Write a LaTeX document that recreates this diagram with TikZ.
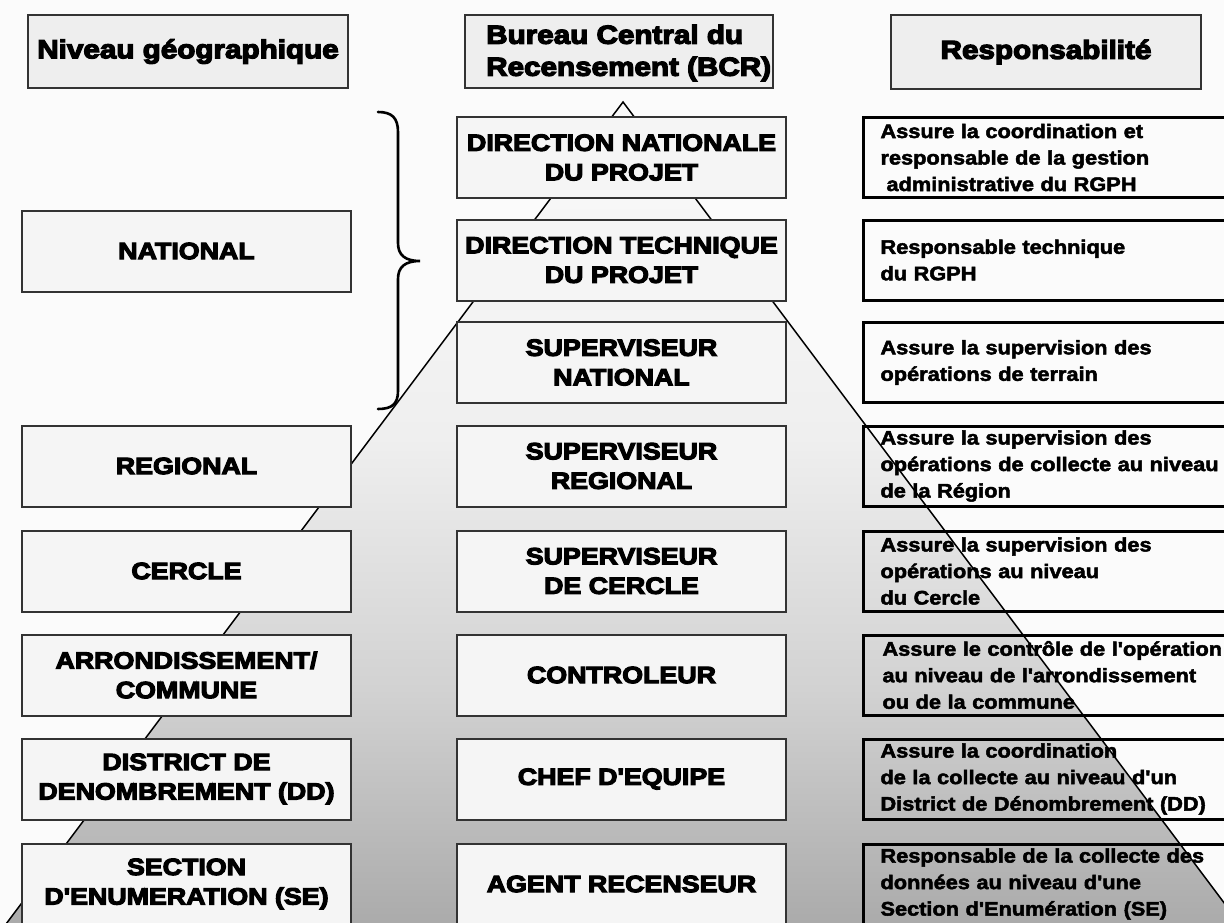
\documentclass[tikz,border=0pt]{standalone}
\usepackage{fontspec}
\newfontfamily\heavy[FakeStretch=1.14, FakeBold=5, Ligatures=TeXOff]{Liberation Sans Bold}
\newfontfamily\headfont[FakeStretch=1.14, FakeBold=5, Ligatures=TeXOff]{Liberation Sans Bold}
\newfontfamily\respfont[FakeStretch=1.11, FakeBold=2.5, Ligatures=TeXOff]{Liberation Sans Bold}
\definecolor{bgcol}{HTML}{FBFBFB}
\definecolor{boxfill}{HTML}{F5F5F5}
\definecolor{headfill}{HTML}{EEEEEE}
\definecolor{boxline}{HTML}{333333}
\definecolor{tg0}{HTML}{A8A8A8}
\definecolor{tg1}{HTML}{D2D2D2}
\definecolor{tg2}{HTML}{EFEFEF}
\definecolor{tg3}{HTML}{FAFAFA}
\pgfdeclareverticalshading{trishade}{100bp}{color(0bp)=(tg0); color(25bp)=(tg0); color(40bp)=(tg1); color(55bp)=(tg2); color(75bp)=(tg3); color(100bp)=(tg3)}
\begin{document}
\begin{tikzpicture}[x=1pt,y=-1pt,
  headbox/.style={draw=boxline, line width=2, fill=headfill, inner sep=0,
    font=\headfont\fontsize{26}{32}\selectfont},
  rowbox/.style={draw=boxline, line width=2, fill=boxfill, inner sep=0,
    minimum width=329, minimum height=81, align=center,
    font=\heavy\fontsize{23.5}{29.5}\selectfont},
  respbox/.style={draw=black, line width=3, anchor=west, inner ysep=0, inner xsep=17,
    minimum height=80, text width=380, align=left,
    font=\respfont\fontsize{19.6}{26.5}\selectfont},
  triline/.style={line width=1.5, draw=black}]
\useasboundingbox (0,0) rectangle (1224,923);
\begin{scope}
\clip (0,0) rectangle (1224,923);
\fill[bgcol] (0,0) rectangle (1224,923);
% pyramid
\coordinate (apex) at (623,102);
\coordinate (bl) at (-6,940);
\coordinate (br) at (1252,940);
\shade[shading=trishade] (apex) -- (bl) -- (br) -- cycle;
\draw[triline] (bl) -- (apex) -- (br);
% headers
\node[headbox, minimum width=320, minimum height=73] (hgeo) at (188,51.5) {Niveau géographique};
\node[headbox, minimum width=308, minimum height=73] (hbcr) at (619,51.5) {};
\node[anchor=west, align=left, inner sep=0, font=\headfont\fontsize{26}{32}\selectfont] (hbcrtext) at (486,53) {Bureau Central du\\Recensement (BCR)};
\node[headbox, minimum width=310, minimum height=74] (hresp) at (1046,52) {Responsabilité};
% left column
\node[rowbox] (nat) at (186.5,251) {NATIONAL};
\node[rowbox] (reg) at (186.5,466) {REGIONAL};
\node[rowbox] (cer) at (186.5,571) {CERCLE};
\node[rowbox] (arr) at (186.5,675) {ARRONDISSEMENT/\\COMMUNE};
\node[rowbox] (dd) at (186.5,779) {DISTRICT DE\\DENOMBREMENT (DD)};
\node[rowbox] (se) at (186.5,884) {SECTION\\D'ENUMERATION (SE)};
% centre column
\node[rowbox] (dn) at (621.5,157.5) {DIRECTION NATIONALE\\DU PROJET};
\node[rowbox] (dt) at (621.5,260) {DIRECTION TECHNIQUE\\DU PROJET};
\node[rowbox] (sn) at (621.5,362.5) {SUPERVISEUR\\NATIONAL};
\node[rowbox] (sr) at (621.5,466) {SUPERVISEUR\\REGIONAL};
\node[rowbox] (sc) at (621.5,571) {SUPERVISEUR\\DE CERCLE};
\node[rowbox] (ctl) at (621.5,675) {CONTROLEUR};
\node[rowbox] (chef) at (621.5,779) {CHEF D'EQUIPE};
\node[rowbox] (agent) at (621.5,884) {AGENT RECENSEUR};
% right column
\node[respbox] (r1) at (862,157.5) {Assure la coordination et\\responsable de la gestion\\\hspace*{6pt}administrative du RGPH};
\node[respbox] (r2) at (862,260) {Responsable technique\\du RGPH};
\node[respbox] (r3) at (862,362.5) {Assure la supervision des\\opérations de terrain};
\node[respbox] (r4) at (862,466) {Assure la supervision des\\opérations de collecte au niveau\\de la Région};
\node[respbox] (r5) at (862,571) {Assure la supervision des\\opérations au niveau\\du Cercle};
\node[respbox] (r6) at (862,675) {\hspace*{2pt}Assure le contrôle de l'opération\\\hspace*{2pt}au niveau de l'arrondissement\\\hspace*{2pt}ou de la commune};
\node[respbox] (r7) at (862,779) {Assure la coordination\\de la collecte au niveau d'un\\District de Dénombrement (DD)};
\node[respbox] (r8) at (862,884) {Responsable de la collecte des\\données au niveau d'une\\Section d'Enumération (SE)};
% brace
\draw[line width=2.6, line cap=round] (378,112) .. controls (392,112) and (398,118) .. (398,132) -- (398,243) .. controls (398,255) and (405,261) .. (420,261) .. controls (405,261) and (398,267) .. (398,279) -- (398,391) .. controls (398,404) and (392,409) .. (378,409);
\end{scope}
\end{tikzpicture}
\end{document}
